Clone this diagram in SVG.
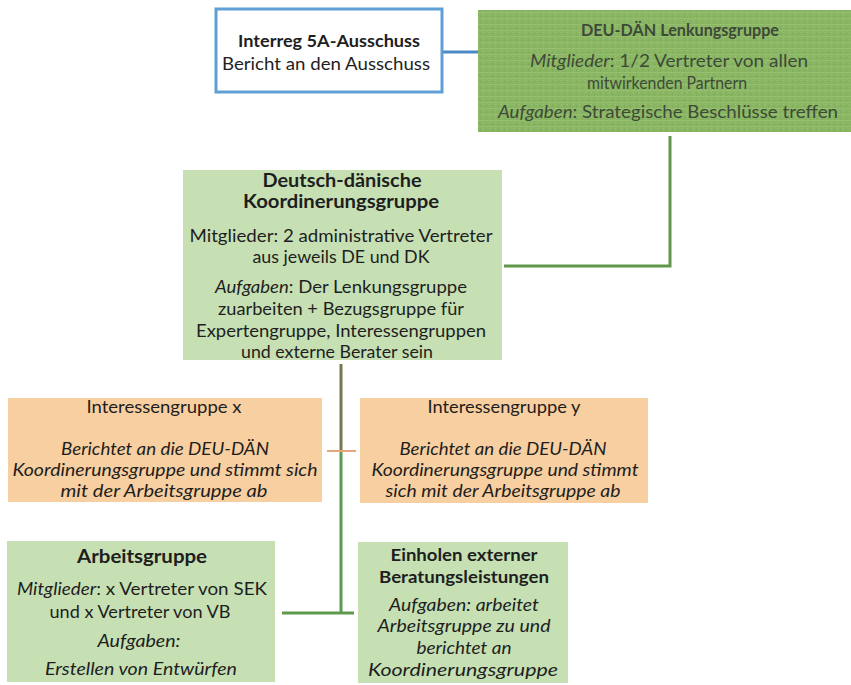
<svg xmlns="http://www.w3.org/2000/svg" width="851" height="685" viewBox="0 0 851 685">
<style>
  text { font-family: Lato, "Liberation Sans", sans-serif; fill: #1e1e1e; text-anchor: middle; }
  .b { font-weight: bold; }
  .i { font-style: italic; }
  .s17 { font-size: 17px; }
  .s16 { font-size: 16px; }
  .dk text { fill: #3e4a38; font-size: 17px; }
  .lightgreen { fill: #c6e0b4; }
  .peach { fill: #f8cfa0; }
  .conn { fill: none; stroke-width: 3; stroke-linecap: butt; }
</style>
<defs>
  <pattern id="tex" width="6" height="6" patternUnits="userSpaceOnUse">
    <rect width="6" height="6" fill="#8ab563"/>
    <rect x="0" y="0" width="6" height="1" fill="#9bc375" opacity="0.7"/>
    <rect x="0" y="3" width="1" height="3" fill="#7dab58" opacity="0.7"/>
    <rect x="3" y="2" width="1" height="1" fill="#a3c97d" opacity="0.8"/>
  </pattern>
</defs>

<g id="connectors">
  <line class="conn" x1="442" y1="52" x2="480" y2="52" stroke="#4a8ac6" stroke-width="5"/>
  <polyline class="conn" points="670,136 670,266 504,266" stroke="#5f984a"/>
  <line class="conn" x1="341" y1="364" x2="341" y2="450" stroke="#7a7650"/>
  <line class="conn" x1="341" y1="450" x2="341" y2="614" stroke="#5a9a52"/>
  <line x1="327" y1="451" x2="356" y2="451" stroke="#e8a57a" stroke-width="2"/>
  <line class="conn" x1="282" y1="613" x2="354" y2="613" stroke="#5f9a4c" stroke-width="4"/>
</g>

<g id="interreg">
  <rect x="216" y="9" width="226" height="83" fill="#ffffff" stroke="#5f9fd6" stroke-width="3"/>
  <text x="329" y="47" class="b" font-size="17.5" textLength="182" lengthAdjust="spacingAndGlyphs">Interreg 5A-Ausschuss</text>
  <text x="326" y="70" font-size="17.5" textLength="208" lengthAdjust="spacingAndGlyphs">Bericht an den Ausschuss</text>
</g>

<g id="lenkungsgruppe" class="dk">
  <rect x="478" y="10" width="373" height="122" fill="url(#tex)"/>
  <text x="680" y="36" class="b" style="font-size:17.5px" textLength="198" lengthAdjust="spacingAndGlyphs">DEU-DÄN Lenkungsgruppe</text>
  <text x="669" y="67" textLength="278" lengthAdjust="spacingAndGlyphs"><tspan class="i">Mitglieder</tspan>: 1/2 Vertreter von allen</text>
  <text x="667" y="89" style="font-size:17.5px" textLength="160" lengthAdjust="spacingAndGlyphs">mitwirkenden Partnern</text>
  <text x="668" y="118" textLength="340" lengthAdjust="spacingAndGlyphs"><tspan class="i">Aufgaben</tspan>: Strategische Beschlüsse treffen</text>
</g>

<g id="koordinierungsgruppe">
  <rect x="183" y="170" width="319" height="190" class="lightgreen"/>
  <text x="342" y="187" class="b" font-size="19" textLength="159" lengthAdjust="spacingAndGlyphs">Deutsch-dänische</text>
  <text x="341" y="208" class="b" font-size="19" textLength="196" lengthAdjust="spacingAndGlyphs">Koordinerungsgruppe</text>
  <text x="341" y="242" class="s17" textLength="303" lengthAdjust="spacingAndGlyphs">Mitglieder: 2 administrative Vertreter</text>
  <text x="341" y="263" class="s17" textLength="177" lengthAdjust="spacingAndGlyphs">aus jeweils DE und DK</text>
  <text x="341" y="293" class="s17" textLength="252" lengthAdjust="spacingAndGlyphs"><tspan class="i">Aufgaben</tspan>: Der Lenkungsgruppe</text>
  <text x="341" y="315" class="s17" textLength="246" lengthAdjust="spacingAndGlyphs">zuarbeiten + Bezugsgruppe für</text>
  <text x="341" y="337" class="s17" textLength="290" lengthAdjust="spacingAndGlyphs">Expertengruppe, Interessengruppen</text>
  <text x="337" y="358" class="s17" textLength="192" lengthAdjust="spacingAndGlyphs">und externe Berater sein</text>
</g>

<g id="interessengruppe-x">
  <rect x="8" y="398" width="314" height="104" class="peach"/>
  <text x="164" y="413" class="s17" textLength="155" lengthAdjust="spacingAndGlyphs">Interessengruppe x</text>
  <text x="165" y="455" class="s17 i" textLength="208" lengthAdjust="spacingAndGlyphs">Berichtet an die DEU-DÄN</text>
  <text x="165" y="476" class="s17 i" textLength="305" lengthAdjust="spacingAndGlyphs">Koordinerungsgruppe und stimmt sich</text>
  <text x="164" y="497" class="s17 i" textLength="207" lengthAdjust="spacingAndGlyphs">mit der Arbeitsgruppe ab</text>
</g>

<g id="interessengruppe-y">
  <rect x="360" y="398" width="288" height="105" class="peach"/>
  <text x="504" y="413" class="s17" textLength="153" lengthAdjust="spacingAndGlyphs">Interessengruppe y</text>
  <text x="503" y="455" class="s17 i" textLength="207" lengthAdjust="spacingAndGlyphs">Berichtet an die DEU-DÄN</text>
  <text x="505" y="476" class="s17 i" textLength="267" lengthAdjust="spacingAndGlyphs">Koordinerungsgruppe und stimmt</text>
  <text x="503" y="497" class="s17 i" textLength="235" lengthAdjust="spacingAndGlyphs">sich mit der Arbeitsgruppe ab</text>
</g>

<g id="arbeitsgruppe">
  <rect x="7" y="541" width="268" height="141" class="lightgreen"/>
  <text x="142" y="563" class="b" font-size="18" textLength="130" lengthAdjust="spacingAndGlyphs">Arbeitsgruppe</text>
  <text x="142" y="595" class="s17" textLength="250" lengthAdjust="spacingAndGlyphs"><tspan class="i">Mitglieder</tspan>: x Vertreter von SEK</text>
  <text x="140" y="618" class="s17" textLength="181" lengthAdjust="spacingAndGlyphs">und x Vertreter von VB</text>
  <text x="139" y="647" class="s17 i" textLength="83" lengthAdjust="spacingAndGlyphs">Aufgaben:</text>
  <text x="141" y="675" class="s17 i" textLength="192" lengthAdjust="spacingAndGlyphs">Erstellen von Entwürfen</text>
</g>

<g id="externe-beratung">
  <rect x="358" y="542" width="210" height="141" class="lightgreen"/>
  <text x="464" y="561" class="b s17" textLength="147" lengthAdjust="spacingAndGlyphs">Einholen externer</text>
  <text x="464" y="583" class="b s17" textLength="170" lengthAdjust="spacingAndGlyphs">Beratungsleistungen</text>
  <text x="464" y="611" class="s17 i" textLength="150" lengthAdjust="spacingAndGlyphs">Aufgaben: arbeitet</text>
  <text x="464" y="632" class="s17 i" textLength="173" lengthAdjust="spacingAndGlyphs">Arbeitsgruppe zu und</text>
  <text x="464" y="654" class="s17 i" textLength="95" lengthAdjust="spacingAndGlyphs">berichtet an</text>
  <text x="463" y="676" class="s17 i" textLength="190" lengthAdjust="spacingAndGlyphs">Koordinerungsgruppe</text>
</g>
</svg>
